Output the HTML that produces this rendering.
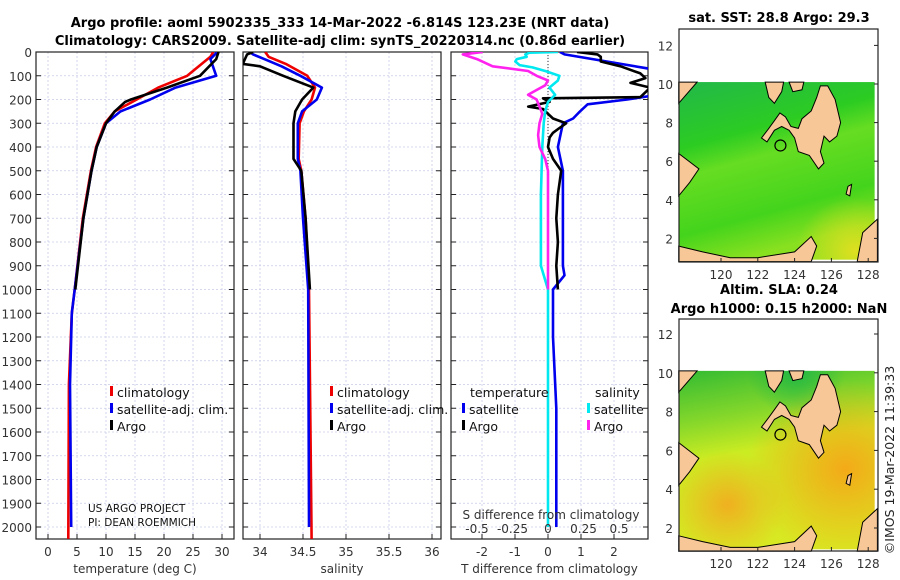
<!DOCTYPE html>
<html><head><meta charset="utf-8">
<style>
html,body{margin:0;padding:0;background:#fff;}
svg{display:block;font-family:"DejaVu Sans","Liberation Sans",sans-serif;}
.tk{font-size:12px;fill:#333;}
.ttl{font-size:13px;font-weight:bold;fill:#000;}
.lg{font-size:12.5px;fill:#111;}
</style></head>
<body>
<svg id="fig" width="900" height="580" viewBox="0 0 900 580" xmlns="http://www.w3.org/2000/svg">
<text class="ttl" x="340" y="27" text-anchor="middle">Argo profile: aoml 5902335_333 14-Mar-2022 -6.814S 123.23E (NRT data)</text>
<text class="ttl" x="340" y="45" text-anchor="middle">Climatology: CARS2009. Satellite-adj clim: synTS_20220314.nc (0.86d earlier)</text>
<g id="plots"></g>
<g id="maps"></g>
<text x="894" y="460" font-size="12.5" fill="#222" transform="rotate(-90 894 460)" text-anchor="middle">©IMOS 19-Mar-2022 11:39:33</text>
</svg>
<script>
// ---- data ----
const depthTicks=[0,100,200,300,400,500,600,700,800,900,1000,1100,1200,1300,1400,1500,1600,1700,1800,1900,2000];
const tempTicks=[0,5,10,15,20,25,30];
const salTicks=[34,34.5,35,35.5,36];
const diffTicks=[-2,-1,0,1,2];
const sdiffTicks=[-0.5,-0.25,0,0.25,0.5];
const sdiffTickLabels=["-0.5","-0.25","0","0.25","0.5"];

const tClimD=[0,20,50,100,150,200,250,300,400,500,700,1000,1100,1400,2050];
const tClimV=[28.5,28,26.5,24,19,15.3,11.5,9.8,8.3,7.4,6,4.6,4.1,3.6,3.5];
const tSatD=[0,30,100,150,200,250,300,400,500,700,1000,1100,1400,2000];
const tSatV=[29.2,28,29,22,17.6,12.5,10,8.4,7.5,6.1,4.6,4.1,3.8,4.0];
const tArgoD=[0,30,100,150,200,210,250,300,400,500,700,1000];
const tArgoV=[29.4,29,26.2,20.5,14.3,13.3,11.5,10,8.4,7.5,6.1,4.7];

const sClimD=[0,20,50,100,150,200,250,300,450,500,700,1000,2050];
const sClimV=[34.06,34.1,34.3,34.55,34.64,34.6,34.51,34.46,34.45,34.48,34.53,34.57,34.6];
const sSatD=[0,10,30,60,100,150,200,250,300,450,500,700,1000,2000];
const sSatV=[33.88,33.92,34.05,34.25,34.47,34.72,34.66,34.49,34.44,34.44,34.47,34.5,34.56,34.57];
const sArgoD=[0,10,50,60,100,150,200,250,300,450,500,700,1000];
const sArgoV=[33.92,33.85,33.8,34.0,34.27,34.62,34.49,34.41,34.39,34.39,34.48,34.53,34.58];

const dTSatD=[0,10,76,181,200,220,250,280,300,400,500,700,900,940,1000,1200,1500,2000];
const dTSatV=[0.36,0.5,3.3,3.3,2.4,1.2,0.97,0.76,0.45,0.3,0.45,0.45,0.45,0.5,0.15,0.15,0.25,0.25];
const dTArgoD=[0,10,20,40,60,90,110,130,150,190,195,210,230,240,260,280,300,320,340,360,400,450,500,600,700,800,900,1000];
const dTArgoV=[0.88,1.5,1.6,1.6,2.2,2.8,2.95,2.5,3.1,2.8,-0.15,0.05,-0.6,-0.15,0,0.15,0.55,0.35,0.15,0.05,0.0,0.15,0.4,0.3,0.25,0.3,0.25,0.3];
const dSSatD=[0,3,10,20,30,40,55,65,80,100,120,150,180,210,250,300,400,600,900,1000,2000];
const dSSatV=[0.07,-0.13,-0.16,-0.15,-0.22,-0.23,-0.2,-0.11,-0.02,0.08,0.07,0.01,0.05,0.0,-0.02,-0.03,-0.04,-0.05,-0.05,0.0,0.0];
const dSArgoD=[0,10,30,60,80,100,120,140,160,180,200,230,260,300,350,400,450,500,1000];
const dSArgoV=[-0.46,-0.6,-0.5,-0.39,-0.14,-0.08,0,-0.02,-0.08,-0.14,-0.08,-0.06,-0.04,-0.06,-0.07,-0.06,-0.02,0,0];

// ---- axes ----
const Y0=52, DY=0.2375, TOP=29, BOT=539;
const yD=d=>Y0+d*DY;
const xT=t=>48+t*5.8;
const xS=s=>260+(s-34)*86;
const xDT=t=>548+t*33;
const xDS=s=>548+s*142;

const NS="http://www.w3.org/2000/svg";
const plots=document.getElementById('plots');
function mk(tag,attrs,parent){const e=document.createElementNS(NS,tag);for(const k in attrs)e.setAttribute(k,attrs[k]);(parent||plots).appendChild(e);return e;}

function panel(name,x0,x1,xs,ticks,labels,xlabel,showDepth){
  const g=mk('g',{});
  
  
  depthTicks.forEach(d=>{const l=mk('line',{x1:x0,x2:x1,y1:yD(d),y2:yD(d),stroke:'#c8cce8','stroke-width':0.8,'stroke-dasharray':'2,2'},g);
    });
  ticks.forEach(t=>{const l=mk('line',{x1:xs(t),x2:xs(t),y1:TOP+23,y2:BOT,stroke:'#c8cce8','stroke-width':0.8,'stroke-dasharray':'2,2'},g);
    });
  const f=mk('rect',{x:x0,y:Y0,width:x1-x0,height:BOT-Y0,fill:'none',stroke:'#222','stroke-width':1.2},g);
  
  depthTicks.forEach(d=>{
    mk('line',{x1:x0,x2:x0+5,y1:yD(d),y2:yD(d),stroke:'#222'},g);
    mk('line',{x1:x1-5,x2:x1,y1:yD(d),y2:yD(d),stroke:'#222'},g);
    if(showDepth){const t=mk('text',{x:x0-4,y:yD(d)+5,class:'tk','text-anchor':'end'},g);t.textContent=d;
      }
  });
  ticks.forEach((t,i)=>{
    mk('line',{x1:xs(t),x2:xs(t),y1:BOT,y2:BOT-5,stroke:'#222'},g);
    const tx=mk('text',{x:xs(t),y:BOT+17,class:'tk','text-anchor':'middle'},g);tx.textContent=labels[i];
    
  });
  const xl=mk('text',{x:(x0+x1)/2,y:BOT+34,class:'tk','text-anchor':'middle'},g);xl.textContent=xlabel;
  
  return g;
}
function line(g,ds,vs,xs,color,name,w){
  const pts=ds.map((d,i)=>xs(vs[i]).toFixed(1)+','+yD(d).toFixed(1)).join(' ');
  const p=mk('polyline',{points:pts,fill:'none',stroke:color,'stroke-width':w||2.6,'stroke-linejoin':'round'},g);
  
  
}
function legend(g,x,y,color,label,name){
  mk('rect',{x:x,y:y-11,width:3,height:10,fill:color},g);
  const t=mk('text',{x:x+7,y:y,class:'lg'},g);t.textContent=label;
  
}

const defs=mk('defs',{});
[[36,234,'c1'],[243,441,'c2'],[451,648,'c3']].forEach(([a,b,id])=>{const c=mk('clipPath',{id:id},defs);mk('rect',{x:a,y:Y0,width:b-a,height:BOT-Y0},c);});

// panel 1
const g1=panel('temperature-panel',36,234,xT,tempTicks,tempTicks.map(String),'temperature (deg C)',true);
const s1=mk('g',{'clip-path':'url(#c1)'},g1);
line(s1,tClimD,tClimV,xT,'#ee0000','temp-climatology-line');
line(s1,tSatD,tSatV,xT,'#0000ee','temp-satellite-line');
line(s1,tArgoD,tArgoV,xT,'#000','temp-argo-line');
legend(g1,110,397,'#ee0000','climatology','legend-climatology');
legend(g1,110,414,'#0000ee','satellite-adj. clim.','legend-satellite');
legend(g1,110,431,'#000','Argo','legend-argo');
let t=mk('text',{x:88,y:512,'font-size':10.5,fill:'#111'},g1);t.textContent='US ARGO PROJECT';

t=mk('text',{x:88,y:526,'font-size':10.5,fill:'#111'},g1);t.textContent='PI: DEAN ROEMMICH';


// panel 2
const g2=panel('salinity-panel',243,441,xS,salTicks,["34","34.5","35","35.5","36"],'salinity',false);
const s2=mk('g',{'clip-path':'url(#c2)'},g2);
line(s2,sClimD,sClimV,xS,'#ee0000','sal-climatology-line');
line(s2,sSatD,sSatV,xS,'#0000ee','sal-satellite-line');
line(s2,sArgoD,sArgoV,xS,'#000','sal-argo-line');
legend(g2,330,397,'#ee0000','climatology','legend-climatology');
legend(g2,330,414,'#0000ee','satellite-adj. clim.','legend-satellite');
legend(g2,330,431,'#000','Argo','legend-argo');

// panel 3
const g3=panel('difference-panel',451,648,xDT,diffTicks,diffTicks.map(String),'T difference from climatology',false);
mk('line',{x1:548,x2:548,y1:Y0,y2:BOT,stroke:'#333','stroke-width':1,'stroke-dasharray':'1,2'},g3);
const s3=mk('g',{'clip-path':'url(#c3)'},g3);
line(s3,dTSatD,dTSatV,xDT,'#0000ee','tdiff-satellite-line');
line(s3,dTArgoD,dTArgoV,xDT,'#000','tdiff-argo-line');
line(s3,dSSatD,dSSatV,xDS,'#00e8f0','sdiff-satellite-line');
line(s3,dSArgoD,dSArgoV,xDS,'#ff22ee','sdiff-argo-line');
t=mk('text',{x:470,y:397,class:'lg'},g3);t.textContent='temperature';

t=mk('text',{x:595,y:397,class:'lg'},g3);t.textContent='salinity';

legend(g3,462,414,'#0000ee','satellite','legend-t-satellite');
legend(g3,462,431,'#000','Argo','legend-t-argo');
legend(g3,587,414,'#00e8f0','satellite','legend-s-satellite');
legend(g3,587,431,'#ff22ee','Argo','legend-s-argo');
t=mk('text',{x:551,y:519,class:'tk','text-anchor':'middle',fill:'#111'},g3);t.textContent='S difference from climatology';

sdiffTicks.forEach((s,i)=>{const e=mk('text',{x:xDS(s),y:533,class:'tk','text-anchor':'middle'},g3);e.textContent=sdiffTickLabels[i];
  });

// ---- maps ----
const maps=document.getElementById('maps');
const latTicks=[2,4,6,8,10,12];
const lonTicks=[120,122,124,126,128];
const argoLon=123.23, argoLat=6.814;
const land=[
 [[123.5,8.3],[123.8,7.8],[124.2,7.7],[124.4,8.2],[124.9,8.6],[125.2,9.3],[125.4,9.9],[125.8,9.9],[126.2,9.2],[126.5,8.0],[126.3,7.3],[125.9,7.0],[125.6,7.3],[125.4,6.5],[125.6,5.9],[125.3,5.6],[124.8,6.3],[124.2,6.5],[124.0,7.2],[123.7,7.6],[123.3,7.8],[122.9,7.6],[122.5,7.0],[122.2,7.2],[122.6,7.7],[122.9,8.1],[123.2,8.5]],
 [[122.4,10.1],[122.6,9.3],[122.9,9.0],[123.3,9.6],[123.4,10.1]],
 [[123.7,10.1],[124.5,10.1],[124.4,9.7],[123.9,9.6]],
 [[117.7,6.4],[118.8,5.6],[118.3,4.9],[117.7,4.2]],
 [[117.7,9.0],[118.7,10.1],[117.7,10.1]],
 [[117.7,1.6],[119,1.3],[120.5,1.0],[122,1.0],[124,1.3],[124.9,2.1],[125.2,1.6],[124.9,0.8],[117.7,0.8]],
 [[127.7,2.3],[128.5,3.0],[128.5,0.8],[127.4,0.8]],
 [[126.9,4.7],[127.1,4.8],[127.0,4.2],[126.8,4.3]]
];
function mapPanel(name,ytop,ybot,y10,ppl,grad,titles){
  const g=document.createElementNS(NS,'g');maps.appendChild(g);
  
  
  const X=l=>721+(l-120)*18.4, Yl=l=>y10+(10-l)*ppl;
  const mm=(tag,a)=>mk(tag,a,g);
  titles.forEach((tt,i)=>{const e=mm('text',{x:779,y:tt[1],class:'ttl','text-anchor':'middle'});e.textContent=tt[0];
    });
  grad(mm,X(117.7),Yl(10.1),X(128.35)-X(117.7),Yl(0.9)-Yl(10.1));
  land.forEach(poly=>{const p=mm('polygon',{points:poly.map(q=>X(q[0]).toFixed(1)+','+Yl(q[1]).toFixed(1)).join(' '),fill:'#f7c797',stroke:'#000','stroke-width':1});
    });
  const c=mm('circle',{cx:X(argoLon),cy:Yl(argoLat),r:5.5,fill:'none',stroke:'#000','stroke-width':1.2});
  
  const f=mm('rect',{x:679,y:ytop,width:199,height:ybot-ytop,fill:'none',stroke:'#222','stroke-width':1.2});
  
  latTicks.forEach(l=>{mm('line',{x1:878,x2:874,y1:Yl(l),y2:Yl(l),stroke:'#222'});
    const e=mm('text',{x:673,y:Yl(l)+5,class:'tk','text-anchor':'end'});e.textContent=l;
    });
  lonTicks.forEach(l=>{mm('line',{x1:X(l),x2:X(l),y1:ybot,y2:ybot-4,stroke:'#222'});
    const e=mm('text',{x:X(l),y:ybot+17,class:'tk','text-anchor':'middle'});e.textContent=l;
    });
}
const mdefs=mk('defs',{},maps);
mdefs.innerHTML='<linearGradient id="sst" x1="0" y1="0" x2="0.3" y2="1"><stop offset="0" stop-color="#22b84a"/><stop offset="0.35" stop-color="#2dcc22"/><stop offset="0.5" stop-color="#66dd22"/><stop offset="0.8" stop-color="#44d41c"/><stop offset="1" stop-color="#88e020"/></linearGradient>'+
'<radialGradient id="sstc" cx="0.9" cy="0.95" r="0.3"><stop offset="0" stop-color="#e8e020" stop-opacity="0.9"/><stop offset="1" stop-color="#e8e020" stop-opacity="0"/></radialGradient>'+
'<linearGradient id="sla" x1="0" y1="0" x2="0.2" y2="1"><stop offset="0" stop-color="#33bb33"/><stop offset="0.3" stop-color="#88d82a"/><stop offset="0.5" stop-color="#ccec22"/><stop offset="1" stop-color="#d8e822"/></linearGradient>'+
'<radialGradient id="slao" cx="0.85" cy="0.55" r="0.5"><stop offset="0" stop-color="#f4aa18"/><stop offset="1" stop-color="#f4aa18" stop-opacity="0"/></radialGradient>'+
'<radialGradient id="slao2" cx="0.25" cy="0.75" r="0.3"><stop offset="0" stop-color="#f0b020"/><stop offset="1" stop-color="#f0b020" stop-opacity="0"/></radialGradient>'+
'<radialGradient id="slag" cx="0.6" cy="0" r="0.25"><stop offset="0" stop-color="#22b844"/><stop offset="1" stop-color="#22b844" stop-opacity="0"/></radialGradient>';
mapPanel('sst-map',29,262,84,19.3,(mm,x,y,w,h)=>{
  mm('rect',{x:x,y:y,width:w,height:h,fill:'url(#sst)'});
  mm('rect',{x:x,y:y,width:w,height:h,fill:'url(#sstc)'});
},[['sat. SST: 28.8 Argo: 29.3',22]]);
mapPanel('sla-map',319,551,372.8,19.4,(mm,x,y,w,h)=>{
  mm('rect',{x:x,y:y,width:w,height:h,fill:'url(#sla)'});
  mm('rect',{x:x,y:y,width:w,height:h,fill:'url(#slao)'});
  mm('rect',{x:x,y:y,width:w,height:h,fill:'url(#slao2)'});
  mm('rect',{x:x,y:y,width:w,height:h,fill:'url(#slag)'});
},[['Altim. SLA: 0.24',294],['Argo h1000: 0.15 h2000: NaN',313]]);
</script>
</body></html>
